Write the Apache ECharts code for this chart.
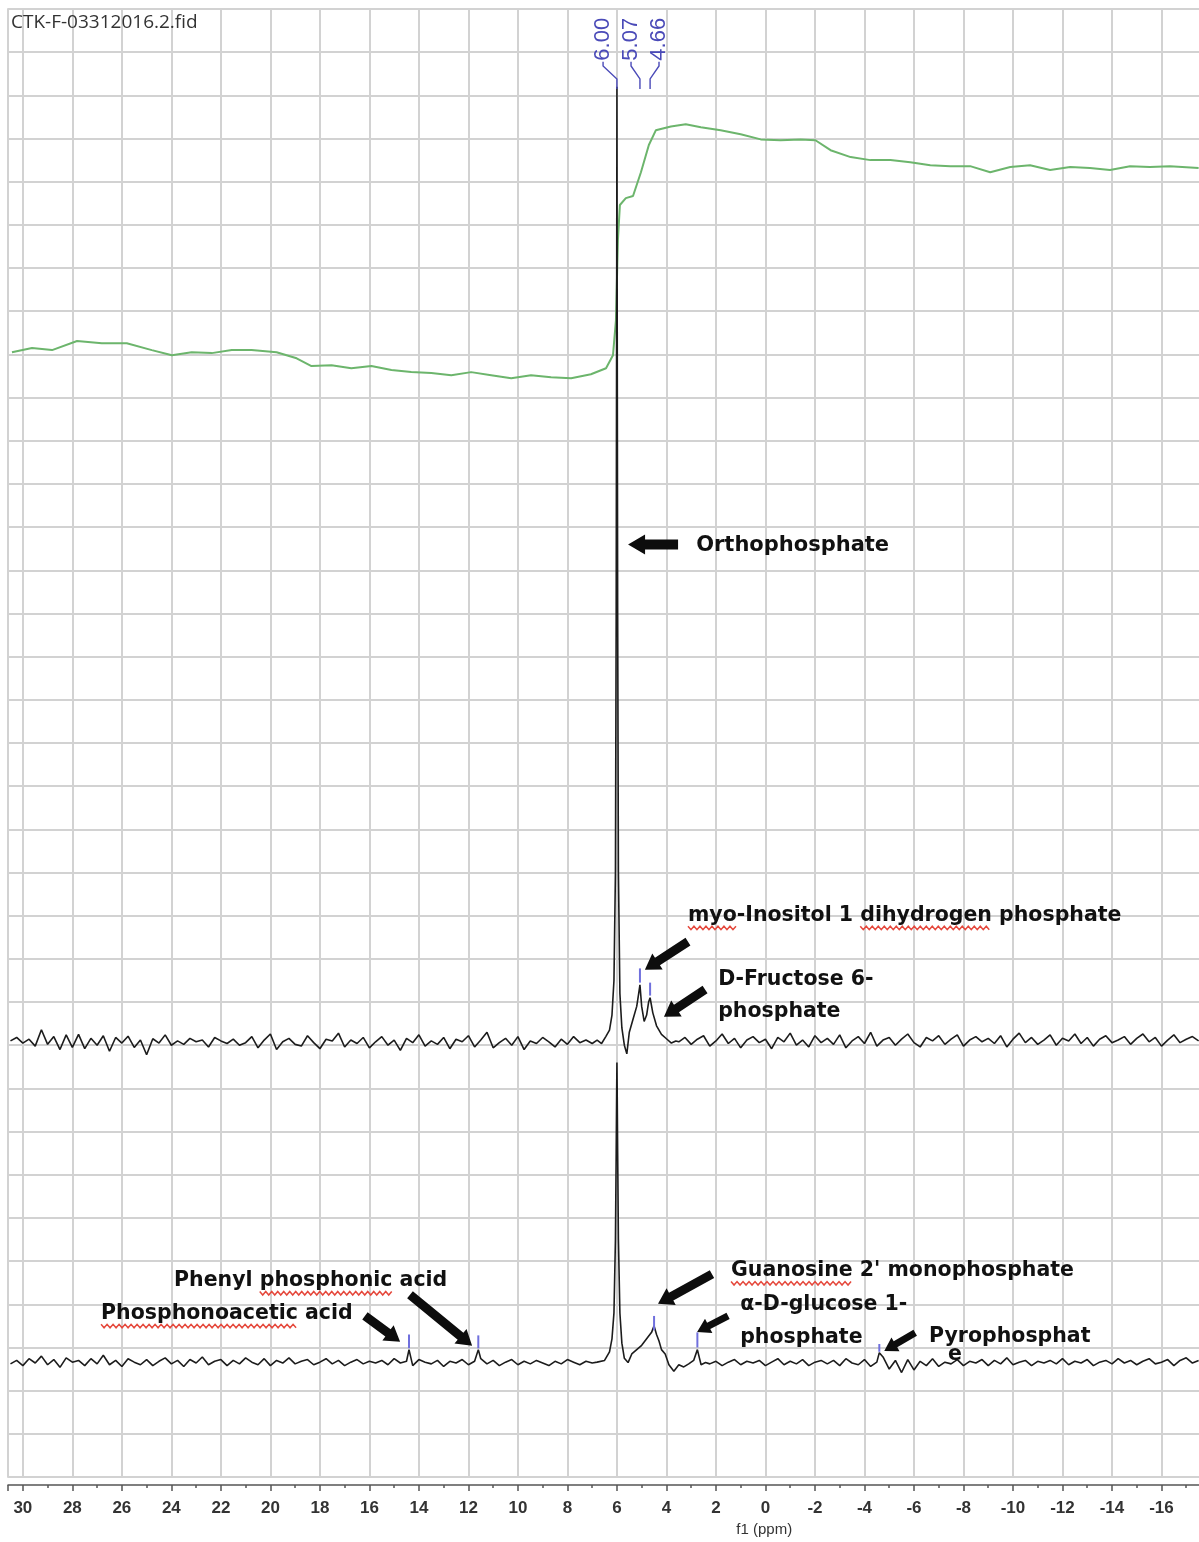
<!DOCTYPE html>
<html><head><meta charset="utf-8">
<script src="https://cdn.jsdelivr.net/npm/echarts@6/dist/echarts.min.js"></script>
<style>html,body{margin:0;padding:0;background:#fff;overflow:hidden}#c{width:1199px;height:1542px}</style>
</head><body><div id="c"></div>
<script>
// ---------------- DATA ----------------
const fileTitle = 'CTK-F-03312016.2.fid';
const axisTitle = 'f1 (ppm)';
const xTickValues = [30,28,26,24,22,20,18,16,14,12,10,8,6,4,2,0,-2,-4,-6,-8,-10,-12,-14,-16];

// baseline sampling grid (ppm), 30.5 down to -17.5 in steps of 0.25
const ppmGridStart = 30.5;
const ppmGridStep = 0.25;

// upper spectrum baseline
const topBaseline = [
10.10,10.18,10.05,10.14,9.98,10.36,10.02,10.20,9.90,10.24,9.95,10.25,
9.92,10.16,10.00,10.22,9.86,10.18,10.05,10.21,9.95,10.12,9.78,10.15,
10.05,10.24,10.00,10.10,10.02,10.16,10.08,10.12,9.96,10.18,10.10,10.04,
10.14,10.00,10.06,10.20,9.94,10.12,10.26,9.90,10.08,10.16,10.02,9.98,
10.22,10.06,9.92,10.14,10.10,10.28,9.96,10.12,10.04,10.18,9.94,10.08,
10.20,10.00,10.12,9.88,10.16,10.06,10.24,9.98,10.10,10.02,10.18,9.92,
10.14,10.08,10.22,9.96,10.12,10.30,9.94,10.06,10.16,10.00,10.20,9.90,
10.10,10.04,10.18,10.08,9.96,10.14,10.02,10.20,10.06,10.12,10.04,10.10,
10.12,10.20,10.06,10.14,10.02,10.18,10.08,10.12,10.04,10.16,10.10,10.06,
10.08,10.18,10.02,10.14,10.22,9.98,10.10,10.26,10.04,10.16,9.94,10.12,
10.20,10.06,10.14,9.92,10.18,10.08,10.28,10.00,10.12,9.96,10.22,10.06,
10.16,10.02,10.24,9.94,10.10,10.20,10.04,10.30,9.98,10.12,10.18,10.00,
10.14,10.26,10.06,9.96,10.18,10.10,10.22,10.02,10.14,10.24,9.98,10.12,
10.20,10.08,10.16,10.04,10.22,9.96,10.14,10.28,10.06,10.18,10.02,10.12,
10.24,10.00,10.16,10.10,10.26,10.04,10.18,9.98,10.14,10.22,10.06,10.12,
10.20,10.02,10.16,10.26,10.08,10.18,9.98,10.12,10.24,10.06,10.14,10.20,
10.10];
// upper spectrum, peak region (ppm / intensity)
const topPeakPpm = [6.8,6.62,6.45,6.3,6.2,6.12,6.06,6.03,6.01,6.0,5.99,5.97,5.94,5.88,5.8,5.7,5.6,5.5,5.35,5.2,5.12,5.07,5.0,4.9,4.8,4.72,4.66,4.55,4.4,4.2,4.0,3.8,3.62];
const topPeakVal = [10.12,10.04,10.2,10.35,10.7,11.5,14.0,20.0,27.5,32.2,27.5,20.0,14.0,11.2,10.4,10.0,9.8,10.3,10.6,10.9,11.2,11.4,10.9,10.55,10.7,11.0,11.1,10.75,10.45,10.25,10.15,10.05,10.1];

// lower spectrum baseline
const bottomBaseline = [
2.62,2.70,2.58,2.74,2.64,2.80,2.60,2.72,2.54,2.76,2.66,2.70,
2.58,2.74,2.62,2.82,2.60,2.70,2.56,2.74,2.66,2.60,2.72,2.58,
2.68,2.76,2.62,2.70,2.56,2.72,2.64,2.78,2.60,2.68,2.72,2.58,
2.70,2.62,2.76,2.66,2.60,2.74,2.58,2.70,2.64,2.76,2.62,2.68,
2.72,2.60,2.66,2.74,2.62,2.70,2.58,2.66,2.72,2.62,2.68,2.64,
2.70,2.60,2.74,2.64,2.68,2.58,2.72,2.66,2.62,2.70,2.56,2.68,
2.64,2.72,2.60,2.68,2.74,2.62,2.70,2.58,2.66,2.72,2.60,2.68,
2.62,2.70,2.64,2.58,2.68,2.62,2.72,2.66,2.60,2.68,2.64,2.70,
2.66,2.70,2.62,2.68,2.64,2.70,2.60,2.66,2.72,2.62,2.68,2.64,
2.60,2.66,2.58,2.64,2.70,2.62,2.68,2.58,2.66,2.72,2.60,2.68,
2.64,2.70,2.58,2.66,2.74,2.60,2.68,2.62,2.72,2.58,2.66,2.70,
2.62,2.70,2.58,2.74,2.64,2.60,2.72,2.56,2.66,2.78,2.50,2.70,
2.42,2.72,2.48,2.68,2.58,2.74,2.56,2.66,2.62,2.72,2.58,2.68,
2.64,2.72,2.58,2.70,2.62,2.76,2.60,2.66,2.70,2.58,2.68,2.64,
2.70,2.62,2.74,2.60,2.68,2.64,2.72,2.58,2.66,2.70,2.62,2.74,
2.64,2.70,2.60,2.68,2.74,2.62,2.66,2.72,2.58,2.70,2.76,2.64,
2.70];
// lower spectrum, main peak region
const bottomPeakPpm = [6.8,6.5,6.3,6.2,6.12,6.06,6.03,6.01,6.0,5.99,5.97,5.94,5.88,5.8,5.7,5.55,5.4,5.2,5.0,4.8,4.6,4.5,4.4,4.3,4.2,4.05,3.9,3.7,3.5,3.3,3.1,2.9,2.75,2.6,2.42];
const bottomPeakVal = [2.66,2.7,2.9,3.2,3.8,5.5,7.5,9.0,9.6,9.0,7.5,5.5,3.8,3.1,2.75,2.65,2.85,2.95,3.05,3.2,3.35,3.5,3.3,3.15,2.95,2.85,2.6,2.45,2.6,2.55,2.62,2.7,2.95,2.6,2.65];
// lower spectrum, small isolated peaks
const bottomSmallPpm = [14.4, 11.6, -4.6];
const bottomSmallVal = [2.95, 2.95, 2.88];

// integral curve (green)
const integralPpm = [30.44,29.63,28.82,27.81,26.81,25.8,24.79,23.98,23.18,22.37,21.56,20.76,19.75,18.94,18.34,17.53,16.73,15.92,15.11,14.31,13.5,12.69,11.89,11.08,10.27,9.47,8.66,7.85,7.05,6.44,6.16,6.04,5.96,5.88,5.64,5.35,5.03,4.71,4.43,3.82,3.22,2.61,1.81,1.0,0.19,-0.61,-1.42,-2.02,-2.63,-3.44,-4.24,-5.05,-5.85,-6.66,-7.47,-8.27,-9.08,-9.89,-10.69,-11.5,-12.31,-13.11,-13.92,-14.73,-15.53,-16.34,-17.5];
const integralVal = [26.05,26.15,26.1,26.31,26.26,26.26,26.1,25.98,26.05,26.03,26.1,26.1,26.05,25.91,25.73,25.75,25.68,25.73,25.64,25.59,25.57,25.52,25.59,25.52,25.45,25.52,25.47,25.45,25.54,25.68,25.98,26.79,28.65,29.46,29.62,29.67,30.22,30.85,31.19,31.28,31.33,31.26,31.19,31.1,30.98,30.96,30.98,30.96,30.73,30.57,30.5,30.5,30.45,30.38,30.36,30.36,30.22,30.34,30.38,30.27,30.34,30.32,30.27,30.36,30.34,30.36,30.32];

// peak-picking marks (blue)
const pickPpm = [5.07, 4.66, 14.4, 11.6, 4.5, 2.75, -4.6];
const pickLow = [11.45, 11.15, 2.98, 2.98, 3.4, 3.0, 2.9];
const pickHigh = [11.78, 11.45, 3.3, 3.28, 3.73, 3.35, 3.08];
// peak-picking labels on top
const pickLabelPpm = [6.00, 5.07, 4.66];

// ---------------- LAYOUT (positions / styles) ----------------
const layout = {
  pickLabelX: [6.56, 5.43, 4.3],
  leaderY: [32.15, 32.38, 32.68, 32.78],
  annoFont: 'bold 20.5px "DejaVu Sans"',
  texts: [
    {t: 'Orthophosphate', at: [2.8, 21.58], font: 'bold 21px "DejaVu Sans"'},
    {t: 'myo-Inositol 1 dihydrogen phosphate', at: [3.13, 13.0], wavy: ['myo', 'dihydrogen']},
    {t: 'D-Fructose 6-', at: [1.91, 11.52]},
    {t: 'phosphate', at: [1.91, 10.78]},
    {t: 'Phenyl phosphonic acid', at: [23.89, 4.54], wavy: ['phosphonic']},
    {t: 'Phosphonoacetic acid', at: [26.84, 3.78], wavy: ['Phosphonoacetic']},
    {t: "Guanosine 2' monophosphate", at: [1.39, 4.77], wavy: ['Guanosine']},
    {t: 'α-D-glucose 1-', at: [1.02, 3.99]},
    {t: 'phosphate', at: [1.02, 3.22]},
    {t: 'Pyrophosphat', at: [-6.61, 3.24]},
    {t: 'e', at: [-7.38, 2.83]}
  ],
  arrows: [
    {from: [3.53, 21.6], to: [5.55, 21.6], w: 10, hw: 20, hl: 17},
    {from: [3.13, 12.4], to: [4.87, 11.75]},
    {from: [2.44, 11.29], to: [4.1, 10.66]},
    {from: [14.36, 4.22], to: [11.85, 3.04]},
    {from: [16.18, 3.73], to: [14.76, 3.13]},
    {from: [2.16, 4.70], to: [4.34, 4.01]},
    {from: [1.51, 3.73], to: [2.76, 3.36], w: 7, hw: 16, hl: 13},
    {from: [-6.05, 3.34], to: [-4.8, 2.92], w: 7, hw: 16, hl: 13}
  ]
};

// ---------------- BUILD ----------------
function gridPoints(values) {
  return values.map((v, i) => [+(ppmGridStart - i * ppmGridStep).toFixed(3), v]);
}
function merge(base, lo, hi, fp, fv, sp, sv) {
  const pts = gridPoints(base).filter(p => p[0] < lo || p[0] > hi);
  fp.forEach((p, i) => pts.push([p, fv[i]]));
  (sp || []).forEach((p, i) => pts.push([p, sv[i]]));
  pts.sort((a, b) => b[0] - a[0]);
  return pts;
}
const topData = merge(topBaseline, topPeakPpm[topPeakPpm.length - 1], topPeakPpm[0], topPeakPpm, topPeakVal);
const bottomData = merge(bottomBaseline, bottomPeakPpm[bottomPeakPpm.length - 1], bottomPeakPpm[0], bottomPeakPpm, bottomPeakVal, bottomSmallPpm, bottomSmallVal);
const integralData = integralPpm.map((p, i) => [p, integralVal[i]]);
const pickData = pickPpm.map((p, i) => [p, pickLow[i], pickHigh[i]]);

const chart = echarts.init(document.getElementById('c'), null, {renderer: 'canvas'});
const blue = '#4a4ab8';

const option = {
  backgroundColor: '#fff',
  animation: false,
  title: {
    text: fileTitle, left: 6, top: 8,
    textStyle: {fontFamily: 'Open Sans', fontSize: 19, fontWeight: 'normal', color: '#333'}
  },
  grid: {left: 8, top: 9, width: 1203, height: 1468, containLabel: false, outerBoundsMode: 'none',
         show: true, borderColor: '#c4c4c4', borderWidth: 1.5, backgroundColor: 'transparent'},
  xAxis: {
    type: 'value', inverse: true, min: -18, max: 30.6, interval: 2,
    offset: 8,
    axisLine: {show: true, onZero: false, lineStyle: {color: '#555', width: 1.5}},
    axisTick: {show: true, length: 6, inside: false, lineStyle: {color: '#555', width: 1.5}},
    minorTick: {show: true, splitNumber: 2, length: 3, lineStyle: {color: '#555', width: 1.5}},
    axisLabel: {
      margin: 15, fontFamily: 'Liberation Sans', fontSize: 17, fontWeight: 'bold', color: '#333',
      formatter: v => (xTickValues.indexOf(Math.round(v * 1000) / 1000) >= 0 ? String(v) : '')
    },
    splitLine: {show: true, lineStyle: {color: '#d2d2d2', width: 2}}
  },
  yAxis: {
    type: 'value', min: 0, max: 34, interval: 1,
    axisLine: {show: false}, axisTick: {show: false}, axisLabel: {show: false},
    splitLine: {show: true, lineStyle: {color: '#d2d2d2', width: 2}}
  },
  series: [
    {type: 'line', name: 'integral', data: integralData, showSymbol: false, symbol: 'none',
     lineStyle: {color: '#6cb56c', width: 2}, z: 3},
    {type: 'line', name: 'top', data: topData, showSymbol: false, symbol: 'none',
     lineStyle: {color: '#1c1c1c', width: 1.6}, z: 4},
    {type: 'line', name: 'bottom', data: bottomData, showSymbol: false, symbol: 'none',
     lineStyle: {color: '#1c1c1c', width: 1.6}, z: 4},
    {type: 'custom', name: 'picks', data: pickData, encode: {x: 0, y: [1, 2]}, z: 5,
     renderItem: (params, api) => {
       const a = api.coord([api.value(0), api.value(1)]);
       const b = api.coord([api.value(0), api.value(2)]);
       return {type: 'line', shape: {x1: a[0], y1: a[1], x2: b[0], y2: b[1]}, style: {stroke: '#7070dd', lineWidth: 2}};
     }},
    {type: 'custom', name: 'pickLabels', data: pickLabelPpm.map(p => [p]), encode: {x: 0}, z: 5,
     renderItem: (params, api) => {
       const p = api.value(0);
       const lp = layout.pickLabelX[params.dataIndex];
       const ly = layout.leaderY;
       const p0 = api.coord([p, ly[0]]), p1 = api.coord([p, ly[1]]), p2 = api.coord([lp, ly[2]]), p3 = api.coord([lp, ly[3]]);
       return {type: 'group', children: [
         {type: 'polyline', shape: {points: [p0, p1, p2, p3]}, style: {stroke: blue, lineWidth: 1.4, fill: null}},
         {type: 'text', x: p3[0], y: p3[1] - 1, rotation: Math.PI / 2,
          style: {text: p.toFixed(2), font: '22px "Liberation Sans"', fill: blue, align: 'left', verticalAlign: 'middle'}}
       ]};
     }}
  ]
};
chart.setOption(option);

// annotations (text, arrows, squiggles) placed in data coordinates
const toPx = d => chart.convertToPixel({xAxisIndex: 0, yAxisIndex: 0}, d);
const mctx = document.createElement('canvas').getContext('2d');
const graphics = [];
layout.texts.forEach(o => {
  const p = toPx(o.at);
  const font = o.font || layout.annoFont;
  mctx.font = font;
  graphics.push({type: 'text', x: p[0], y: p[1], z: 10,
    style: {text: o.t, font: font, fill: '#111', align: 'left', verticalAlign: 'middle'}});
  (o.wavy || []).forEach(w => {
    const idx = o.t.indexOf(w);
    const x0 = p[0] + mctx.measureText(o.t.slice(0, idx)).width;
    const x1 = x0 + mctx.measureText(w).width;
    const pts = [];
    let k = 0;
    for (let x = x0; x <= x1; x += 3, k++) pts.push([x, p[1] + 12 + (k % 2 ? 2 : -1.5)]);
    graphics.push({type: 'polyline', z: 10, shape: {points: pts}, style: {stroke: '#e5483c', lineWidth: 1.5, fill: null}});
  });
});
layout.arrows.forEach(a => {
  const T = toPx(a.from), H = toPx(a.to);
  const dx = H[0] - T[0], dy = H[1] - T[1];
  const L = Math.hypot(dx, dy);
  const ux = dx / L, uy = dy / L, nx = -uy, ny = ux;
  const sw = (a.w || 9) / 2, hw = (a.hw || 19) / 2, hl = a.hl || 15;
  const B = [H[0] - ux * hl, H[1] - uy * hl];
  const pts = [
    [T[0] + nx * sw, T[1] + ny * sw], [B[0] + nx * sw, B[1] + ny * sw], [B[0] + nx * hw, B[1] + ny * hw],
    H, [B[0] - nx * hw, B[1] - ny * hw], [B[0] - nx * sw, B[1] - ny * sw], [T[0] - nx * sw, T[1] - ny * sw]
  ];
  graphics.push({type: 'polygon', z: 10, shape: {points: pts}, style: {fill: '#0d0d0d'}});
});
const ap = toPx([0.05, 0]);
graphics.push({type: 'text', x: ap[0], y: 1530, z: 10,
  style: {text: axisTitle, font: '15px "Liberation Sans"', fill: '#333', align: 'center', verticalAlign: 'middle'}});
chart.setOption({graphic: graphics});
</script></body></html>
